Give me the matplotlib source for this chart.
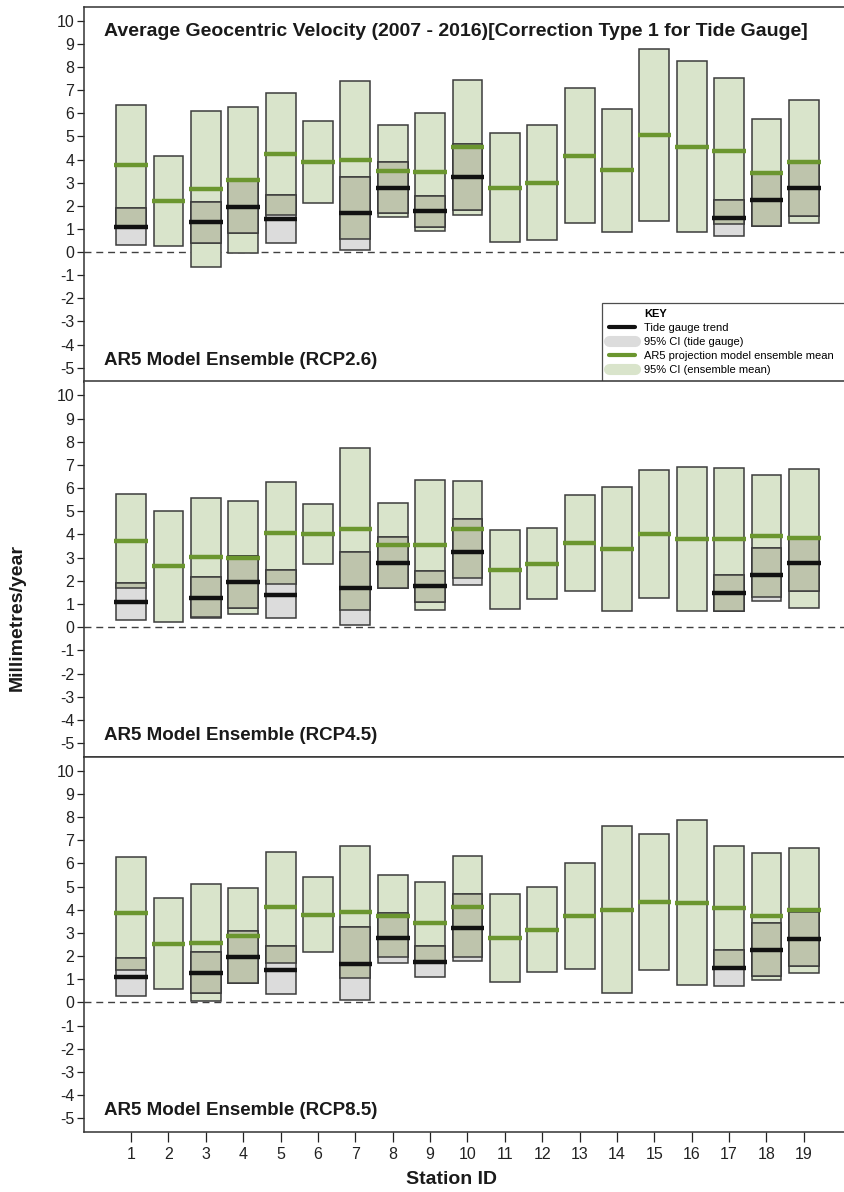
import numpy as np
import matplotlib
matplotlib.use("Agg")
import matplotlib.pyplot as plt
from matplotlib import font_manager
from matplotlib.lines import Line2D

# ---------------------------------------------------------------- data
stations = list(range(1, 20))

# Tide gauge trend and 95% CI (same observations in every panel)
tide_ids = [1, 3, 4, 5, 7, 8, 9, 10, 17, 18, 19]
tide_trend = [1.10, 1.28, 1.95, 1.41, 1.67, 2.77, 1.76, 3.23, 1.49, 2.27, 2.75]
tide_lo = [0.29, 0.41, 0.84, 0.38, 0.11, 1.69, 1.09, 1.80, 0.71, 1.13, 1.55]
tide_hi = [1.90, 2.17, 3.07, 2.45, 3.24, 3.88, 2.43, 4.68, 2.27, 3.42, 3.91]

# AR5 ensemble mean and 95% CI, RCP2.6
rcp26_mean = [3.78, 2.20, 2.72, 3.12, 4.25, 3.91, 3.97, 3.51, 3.48, 4.53,
              2.79, 3.00, 4.17, 3.53, 5.06, 4.56, 4.35, 3.43, 3.91]
rcp26_hi = [6.38, 4.14, 6.08, 6.27, 6.87, 5.66, 7.40, 5.51, 6.02, 7.43,
            5.13, 5.50, 7.09, 6.19, 8.78, 8.26, 7.51, 5.74, 6.58]
rcp26_lo = [1.08, 0.27, -0.66, -0.03, 1.62, 2.13, 0.55, 1.51, 0.93, 1.62,
            0.43, 0.50, 1.26, 0.88, 1.34, 0.86, 1.23, 1.13, 1.25]

# RCP4.5
rcp45_mean = [3.71, 2.62, 3.02, 2.99, 4.07, 4.01, 4.22, 3.55, 3.55, 4.22,
              2.47, 2.74, 3.65, 3.36, 4.02, 3.79, 3.81, 3.94, 3.84]
rcp45_hi = [5.75, 5.03, 5.59, 5.43, 6.26, 5.30, 7.72, 5.36, 6.35, 6.32,
            4.19, 4.27, 5.70, 6.03, 6.77, 6.91, 6.87, 6.55, 6.84]
rcp45_lo = [1.67, 0.22, 0.42, 0.55, 1.88, 2.72, 0.76, 1.69, 0.75, 2.13,
            0.78, 1.21, 1.56, 0.70, 1.26, 0.68, 0.72, 1.31, 0.83]

# RCP8.5
rcp85_mean = [3.84, 2.54, 2.58, 2.87, 4.10, 3.78, 3.91, 3.75, 3.45, 4.14,
              2.80, 3.14, 3.74, 4.01, 4.34, 4.29, 4.08, 3.71, 3.97]
rcp85_hi = [6.30, 4.52, 5.11, 4.95, 6.49, 5.41, 6.77, 5.52, 5.22, 6.32,
            4.70, 4.99, 6.02, 7.62, 7.27, 7.86, 6.75, 6.45, 6.65]
rcp85_lo = [1.38, 0.56, 0.06, 0.83, 1.69, 2.18, 1.05, 1.97, 1.72, 1.96,
            0.89, 1.32, 1.44, 0.39, 1.41, 0.74, 1.45, 0.95, 1.27]

panel_labels = ["AR5 Model Ensemble (RCP2.6)",
                "AR5 Model Ensemble (RCP4.5)",
                "AR5 Model Ensemble (RCP8.5)"]
yticks = list(range(-5, 11))

# ---------------------------------------------------------------- style
names = {f.name for f in font_manager.fontManager.ttflist}
narrow = "Liberation Sans Narrow" if "Liberation Sans Narrow" in names else "Liberation Sans"
plt.rcParams["font.family"] = [narrow, "DejaVu Sans"]
plt.rcParams["axes.unicode_minus"] = False

C_ENS = "#d9e4cb"
C_TIDE = "#dcdcdc"
C_BOTH = "#bec4ac"
C_MEAN = "#6b962f"
C_EDGE = "#3c3c3c"
BOX_W = 0.8
LINE_HALF = 0.45

fig = plt.figure(figsize=(8.44, 11.92), dpi=100)
H = 1192.0
W = 844.0
left = 84 / W
width = 1.0 - left + 0.002
edges = [7, 381.5, 757, 1132]

scenarios = [(rcp26_mean, rcp26_lo, rcp26_hi),
             (rcp45_mean, rcp45_lo, rcp45_hi),
             (rcp85_mean, rcp85_lo, rcp85_hi)]

x = np.array(stations, dtype=float)
tx = np.array(tide_ids, dtype=float)
t_lo = np.array(tide_lo)
t_hi = np.array(tide_hi)
t_tr = np.array(tide_trend)

axes = []
for i, (mean, lo, hi) in enumerate(scenarios):
    top_px, bot_px = edges[i], edges[i + 1]
    ax = fig.add_axes([left, 1 - bot_px / H, width, (bot_px - top_px) / H])
    axes.append(ax)
    mean = np.array(mean)
    lo = np.array(lo)
    hi = np.array(hi)

    # ensemble CI boxes
    ax.bar(x, hi - lo, bottom=lo, width=BOX_W, color=C_ENS,
           edgecolor=C_EDGE, linewidth=1.1, zorder=2)
    # tide gauge CI boxes
    ax.bar(tx, t_hi - t_lo, bottom=t_lo, width=BOX_W, color=C_TIDE,
           edgecolor=C_EDGE, linewidth=1.1, zorder=3)
    # overlap of the two intervals
    idx = [stations.index(s) for s in tide_ids]
    o_lo = np.maximum(t_lo, lo[idx])
    o_hi = np.minimum(t_hi, hi[idx])
    ax.bar(tx, o_hi - o_lo, bottom=o_lo, width=BOX_W, color=C_BOTH,
           edgecolor=C_EDGE, linewidth=1.1, zorder=4)

    # ensemble mean and tide gauge trend
    ax.hlines(mean, x - LINE_HALF, x + LINE_HALF, color=C_MEAN,
              linewidth=3.2, zorder=6)
    ax.hlines(t_tr, tx - LINE_HALF, tx + LINE_HALF, color="#111111",
              linewidth=3.2, zorder=7)

    ax.axhline(0, color="#404040", linewidth=1.0, linestyle=(0, (5, 3.5)),
               zorder=1)

    ax.set_xlim(-0.26, 20.12)
    ax.set_ylim(-5.6, 10.6)
    ax.set_yticks(yticks)
    ax.tick_params(axis="y", direction="out", length=5, width=0.9,
                   labelsize=11.5, pad=2, colors="#222222")
    ax.tick_params(axis="x", direction="out", length=7, width=0.9,
                   labelsize=11.5, pad=4, colors="#222222")
    ax.set_xticks(stations)
    if i < 2:
        ax.tick_params(axis="x", bottom=False, labelbottom=False)
    ax.spines["right"].set_visible(False)
    for s in ("left", "top", "bottom"):
        ax.spines[s].set_color("#333333")
        ax.spines[s].set_linewidth(1.1)
    ax.set_facecolor("white")

    ax.text(0.026, 0.045, panel_labels[i], transform=ax.transAxes,
            fontsize=13.5, fontweight="bold", ha="left", va="baseline",
            color="#1a1a1a", zorder=10)

axes[0].text(0.026, 0.923,
             "Average Geocentric Velocity (2007 - 2016)[Correction Type 1 for Tide Gauge]",
             transform=axes[0].transAxes, fontsize=14, fontweight="bold",
             ha="left", va="baseline", color="#1a1a1a", zorder=10)

# key for the top panel
handles = [
    Line2D([], [], color="none"),
    Line2D([], [], color="#111111", linewidth=3, solid_capstyle="round"),
    Line2D([], [], color=C_TIDE, linewidth=8, solid_capstyle="round"),
    Line2D([], [], color=C_MEAN, linewidth=3, solid_capstyle="round"),
    Line2D([], [], color=C_ENS, linewidth=8, solid_capstyle="round"),
]
labels = ["KEY", "Tide gauge trend", "95% CI (tide gauge)",
          "AR5 projection model ensemble mean", "95% CI (ensemble mean)"]
leg = axes[0].legend(handles, labels, loc="lower left",
                     bbox_to_anchor=(0.68, 0.0, 0.33, 0.22), mode="expand",
                     borderaxespad=0.0, frameon=True, fancybox=False,
                     prop={"family": ["Liberation Sans", "DejaVu Sans"], "size": 8},
                     handlelength=2.4, handletextpad=0.8, labelspacing=0.35,
                     borderpad=0.6)
leg.get_frame().set_edgecolor("#222222")
leg.get_frame().set_linewidth(0.9)
leg.get_texts()[0].set_fontweight("bold")
leg.set_zorder(20)

fig.text(17 / W, 1 - 618 / H, "Millimetres/year", rotation=90,
         fontsize=14, fontweight="bold", ha="center", va="center",
         color="#1a1a1a")
fig.text(452 / W, 1 - 1180 / H, "Station ID", fontsize=14,
         fontweight="bold", ha="center", va="center", color="#1a1a1a")

fig.savefig("out.png", dpi=100, facecolor="white")
